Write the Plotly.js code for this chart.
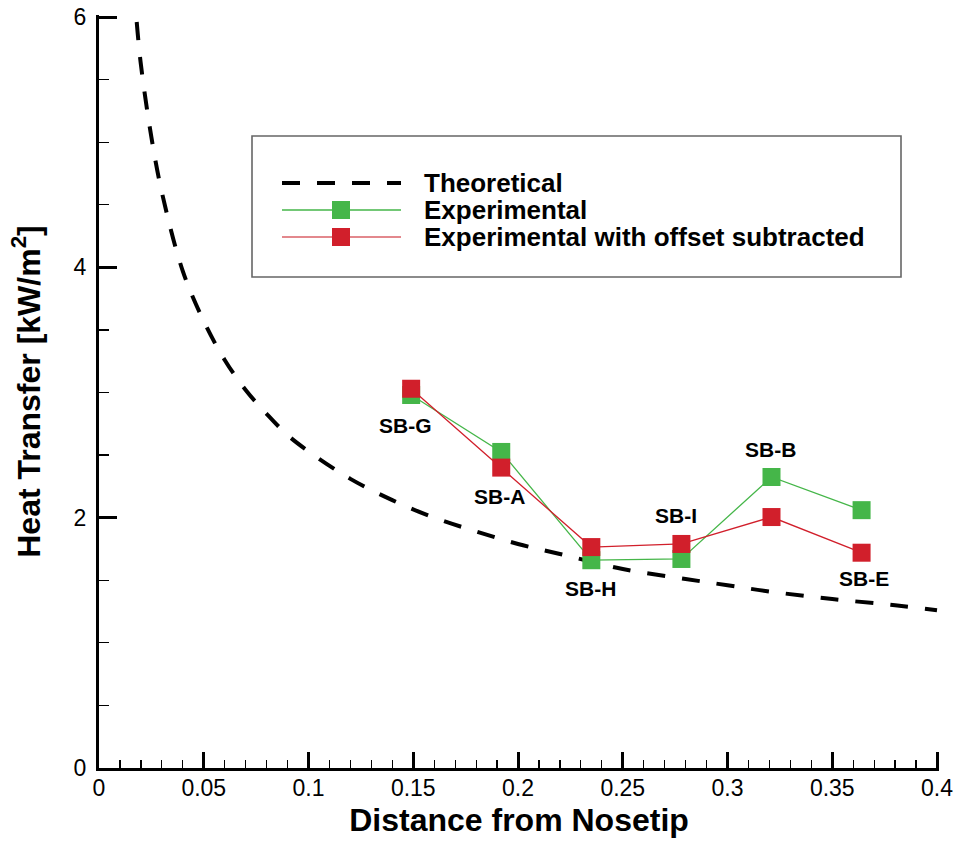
<!DOCTYPE html>
<html>
<head>
<meta charset="utf-8">
<script src="https://cdn.plot.ly/plotly-3.0.1.min.js"></script>
<style>
  html, body { margin: 0; padding: 0; background: #ffffff; }
  #chart { width: 959px; height: 843px; }
</style>
</head>
<body>
<div id="chart"></div>
<script>
// Heat transfer along the body: theory curve vs. gauge measurements
const theoryX = [0.018, 0.020, 0.025, 0.030, 0.040, 0.050, 0.060, 0.070, 0.080, 0.090,
                 0.100, 0.120, 0.140, 0.160, 0.180, 0.200, 0.220, 0.250, 0.280, 0.300,
                 0.320, 0.350, 0.380, 0.400];
const theoryY = [5.96, 5.62, 5.04, 4.60, 3.97, 3.57, 3.26, 3.02, 2.83, 2.66,
                 2.53, 2.31, 2.14, 2.00, 1.89, 1.79, 1.71, 1.59, 1.51, 1.46,
                 1.41, 1.35, 1.30, 1.26];

const gaugeNames = ['SB-G', 'SB-A', 'SB-H', 'SB-I', 'SB-B', 'SB-E'];
const gaugeX     = [0.149, 0.192, 0.235, 0.278, 0.321, 0.364];
const expY       = [2.98, 2.525, 1.66, 1.67, 2.325, 2.06];
const offsetY    = [3.03, 2.40, 1.765, 1.79, 2.005, 1.72];

const xTickVals = [0, 0.05, 0.1, 0.15, 0.2, 0.25, 0.3, 0.35, 0.4];
const xTickText = ['0', '0.05', '0.1', '0.15', '0.2', '0.25', '0.3', '0.35', '0.4'];
const yTickVals = [0, 2, 4, 6];
const yTickText = ['0', '2', '4', '6'];

const seriesNames = ['Theoretical', 'Experimental', 'Experimental with offset subtracted'];

const FONT = 'Liberation Sans, Arial, Helvetica, sans-serif';
const GREEN = '#45b649';
const RED = '#d11f2b';

// plot frame in pixels; ranges run a hair past the last tick so the end ticks are kept
const W = 959, H = 843;
const M = { l: 99, r: 20, t: 15, b: 75 };
const PW = W - M.l - M.r, PH = H - M.t - M.b;
const px = v => (v - M.l) / PW;           // page x pixel -> paper
const py = v => (H - M.b - v) / PH;       // page y pixel -> paper

// label placement: which marker of the pair it hangs off, and pixel nudges
const labelSide = ['below', 'below', 'below', 'above', 'above', 'below'];
const labelDx   = [-6, -2, -1, -5, -1, 2];
const labelGap  = [30, 29, 28, 28, 27, 26];

const traces = [
  {
    x: theoryX, y: theoryY, name: seriesNames[0],
    mode: 'lines', type: 'scatter',
    line: { color: '#000000', width: 4, dash: '18px,17px', shape: 'spline', smoothing: 1 }
  },
  {
    x: gaugeX, y: expY, name: seriesNames[1],
    mode: 'lines+markers', type: 'scatter',
    line: { color: GREEN, width: 1.3 },
    marker: { symbol: 'square', size: 18, color: GREEN, line: { width: 0 } }
  },
  {
    x: gaugeX, y: offsetY, name: seriesNames[2],
    mode: 'lines+markers', type: 'scatter',
    line: { color: RED, width: 1.3 },
    marker: { symbol: 'square', size: 18, color: RED, line: { width: 0 } }
  }
];

const annotations = gaugeNames.map((name, i) => {
  const below = labelSide[i] === 'below';
  const yAnchor = below ? Math.min(expY[i], offsetY[i]) : Math.max(expY[i], offsetY[i]);
  return {
    x: gaugeX[i], y: yAnchor, xref: 'x', yref: 'y',
    text: '<b>' + name + '</b>', showarrow: false,
    xanchor: 'center', yanchor: 'middle',
    xshift: labelDx[i], yshift: below ? -labelGap[i] : labelGap[i],
    font: { family: FONT, size: 21, color: '#000000' }
  };
});

// framed key in the upper middle of the plot
const keyRows = [py(183), py(210), py(237)];
const keyLineX0 = px(282), keyLineX1 = px(401), keyMarkX = px(341), keyTextX = px(422);
const mhw = 9 / PW, mhh = 9 / PH;

seriesNames.forEach((name, i) => {
  annotations.push({
    x: keyTextX, y: keyRows[i], xref: 'paper', yref: 'paper',
    text: '<b>' + name + '</b>', showarrow: false,
    xanchor: 'left', yanchor: 'middle',
    font: { family: FONT, size: 26, color: '#000000' }
  });
});

const shapes = [
  { type: 'rect', xref: 'paper', yref: 'paper', x0: px(252), x1: px(901), y0: py(277), y1: py(136),
    line: { color: '#666666', width: 1.6 }, fillcolor: 'rgba(0,0,0,0)' },
  { type: 'line', xref: 'paper', yref: 'paper', x0: keyLineX0, x1: keyLineX1, y0: keyRows[0], y1: keyRows[0],
    line: { color: '#000000', width: 4, dash: '18px,17px' } },
  { type: 'line', xref: 'paper', yref: 'paper', x0: keyLineX0, x1: keyLineX1, y0: keyRows[1], y1: keyRows[1],
    line: { color: GREEN, width: 1.5 } },
  { type: 'rect', xref: 'paper', yref: 'paper', x0: keyMarkX - mhw, x1: keyMarkX + mhw,
    y0: keyRows[1] - mhh, y1: keyRows[1] + mhh, line: { width: 0 }, fillcolor: GREEN },
  { type: 'line', xref: 'paper', yref: 'paper', x0: keyLineX0, x1: keyLineX1, y0: keyRows[2], y1: keyRows[2],
    line: { color: '#e3888d', width: 2 } },
  { type: 'rect', xref: 'paper', yref: 'paper', x0: keyMarkX - mhw, x1: keyMarkX + mhw,
    y0: keyRows[2] - mhh, y1: keyRows[2] + mhh, line: { width: 0 }, fillcolor: RED }
];

const layout = {
  width: W, height: H,
  margin: { l: M.l, r: M.r, t: M.t, b: M.b, pad: 0 },
  paper_bgcolor: '#ffffff', plot_bgcolor: '#ffffff',
  showlegend: false,
  font: { family: FONT, color: '#000000' },
  xaxis: {
    range: [0, 0.4 * (1 + 2 / (PW - 2))], showgrid: false, zeroline: false,
    showline: true, linecolor: '#000000', linewidth: 3,
    ticks: 'inside', ticklen: 16, tickwidth: 3, tickcolor: '#000000',
    tickvals: xTickVals, ticktext: xTickText,
    tickfont: { family: FONT, size: 23, color: '#000000' },
    ticklabelstandoff: -3,
    minor: { dtick: 0.01, ticks: 'inside', ticklen: 8, tickwidth: 1.2, tickcolor: '#000000', showgrid: false },
    title: { text: '<b>Distance from Nosetip</b>', font: { family: FONT, size: 32, color: '#000000' }, standoff: 10 }
  },
  yaxis: {
    range: [0, 6 * (1 + 2 / (PH - 2))], showgrid: false, zeroline: false,
    showline: true, linecolor: '#000000', linewidth: 3,
    ticks: 'inside', ticklen: 18, tickwidth: 3, tickcolor: '#000000',
    tickvals: yTickVals, ticktext: yTickText,
    tickfont: { family: FONT, size: 23, color: '#000000' },
    ticklabelstandoff: 5,
    minor: { dtick: 0.5, ticks: 'inside', ticklen: 10, tickwidth: 1.2, tickcolor: '#000000', showgrid: false },
    title: { text: '<b>Heat Transfer [kW/m<sup>2</sup>]</b>', font: { family: FONT, size: 32, color: '#000000' }, standoff: 24 }
  },
  annotations: annotations,
  shapes: shapes
};

Plotly.newPlot('chart', traces, layout, { displayModeBar: false, staticPlot: true });
</script>
</body>
</html>
